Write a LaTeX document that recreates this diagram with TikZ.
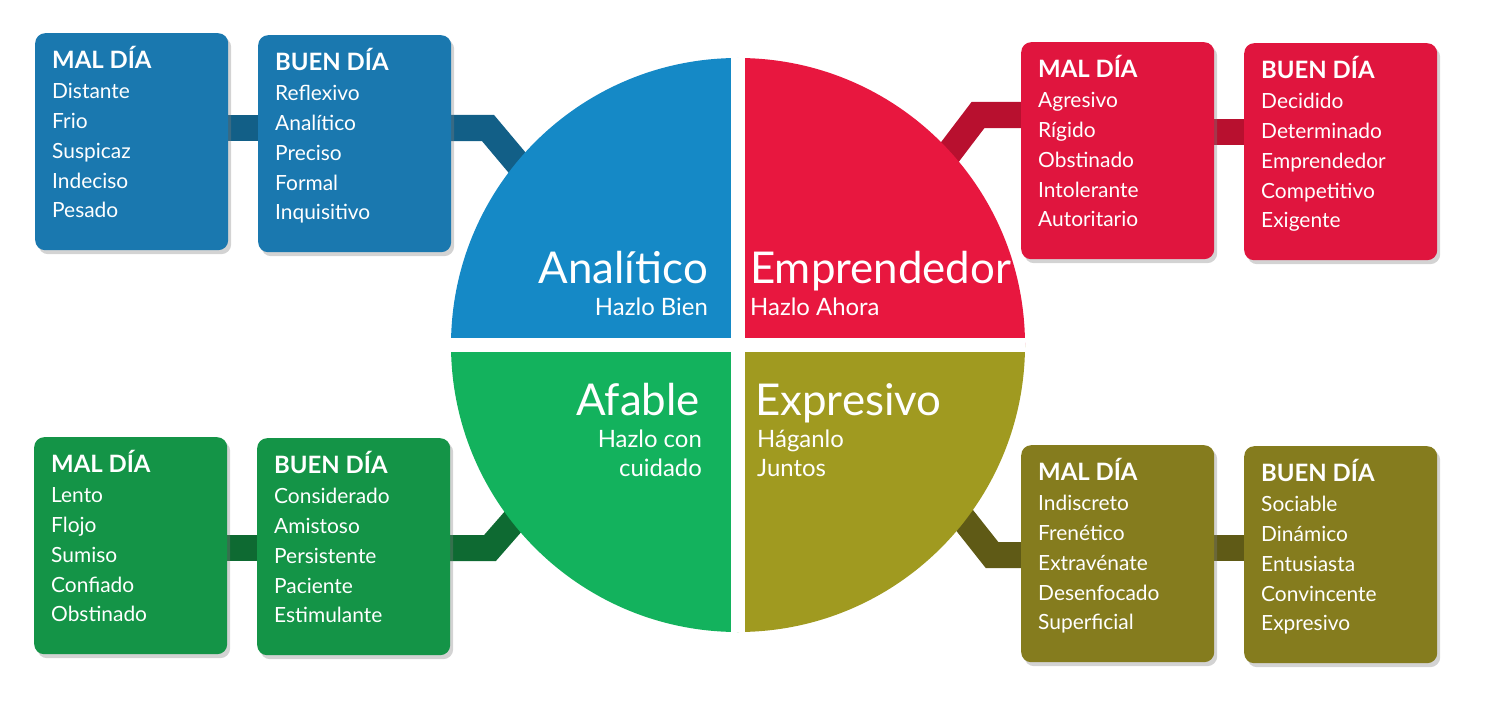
\documentclass[tikz,border=0pt]{standalone}
\usepackage{fontspec}
\setmainfont{Lato}
\usetikzlibrary{shadows}
\definecolor{bC}{HTML}{1589C6}\definecolor{bB}{HTML}{1A78AF}\definecolor{bK}{HTML}{125F87}
\definecolor{rC}{HTML}{E8173F}\definecolor{rB}{HTML}{E0153E}\definecolor{rK}{HTML}{B8102F}
\definecolor{gC}{HTML}{13B25D}\definecolor{gB}{HTML}{149447}\definecolor{gK}{HTML}{0E6A32}
\definecolor{oC}{HTML}{A09A20}\definecolor{oB}{HTML}{857C1E}\definecolor{oK}{HTML}{5F5A16}
\begin{document}
\begin{tikzpicture}[x=1bp,y=-1bp,
  box/.style={rounded corners=10bp,minimum width=193bp,minimum height=217bp,anchor=north west,
    drop shadow={shadow xshift=3bp,shadow yshift=-4bp,opacity=0.35,fill=gray}},
  boxtxt/.style={anchor=north west,text=white,align=left,font=\fontsize{21}{30}\selectfont,inner sep=0},
  conn/.style={line width=26bp,line join=miter},
  big/.style={text=white,font=\fontsize{44}{48}\selectfont,inner sep=0},
  small/.style={text=white,font=\fontsize{24}{29}\selectfont,inner sep=0}]
\useasboundingbox (0,0) rectangle (1490,706);
% connectors
\coordinate (bj) at (530,178); \coordinate (rj) at (940,165);
\coordinate (gj) at (525,508); \coordinate (oj) at (958,512);
\draw[conn,bK] (200,128) -- (280,128); \draw[conn,bK] (440,128) -- (488,128) -- (bj);
\draw[conn,rK] (1190,132) -- (1260,132); \draw[conn,rK] (rj) -- (978,115) -- (1030,115);
\draw[conn,gK] (200,548) -- (280,548); \draw[conn,gK] (440,548) -- (490,548) -- (gj);
\draw[conn,oK] (1190,548) -- (1260,548); \draw[conn,oK] (oj) -- (992,555) -- (1030,555);
% circle
\begin{scope}
\clip (738,345) circle (287);
\fill[bC] (400,0) rectangle (738,345);
\fill[rC] (738,0) rectangle (1100,345);
\fill[gC] (400,345) rectangle (738,700);
\fill[oC] (738,345) rectangle (1100,700);
\fill[white] (731,0) rectangle (745,700);
\fill[white] (400,338) rectangle (1100,352);
\end{scope}
\node (c) at (738,345) {};
\node[big,anchor=base east] (an) at (708,283) {Analítico};
\node[small,anchor=base east] (an2) at (708,315) {Hazlo Bien};
\node[big,anchor=base west] (em) at (750,283) {Emprendedor};
\node[small,anchor=base west] (em2) at (750,315) {Hazlo Ahora};
\node[big,anchor=base east] (af) at (700,415) {Afable};
\node[small,anchor=base east,align=right] (af2) at (702,447) {Hazlo con};
\node[small,anchor=base east] (af3) at (702,476) {cuidado};
\node[big,anchor=base west] (ex) at (755,415) {Expresivo};
\node[small,anchor=base west] (ex2) at (757,447) {Háganlo};
\node[small,anchor=base west] (ex3) at (757,476) {Juntos};
% boxes
\newcommand\mybox[6]{%
 \node[box,fill=#1] (#2) at (#3,#4) {};
 \node[boxtxt] (#2t) at ([shift={(17,13)}]#2.north west) {{\fontsize{24}{30}\selectfont\bfseries #5}\\#6};}
\mybox{bB}{bm}{35}{33}{MAL DÍA}{Distante\\Frio\\Suspicaz\\Indeciso\\Pesado}
\mybox{bB}{bb}{258}{35}{BUEN DÍA}{Reflexivo\\Analítico\\Preciso\\Formal\\Inquisitivo}
\mybox{rB}{rm}{1021}{42}{MAL DÍA}{Agresivo\\Rígido\\Obstinado\\Intolerante\\Autoritario}
\mybox{rB}{rb}{1244}{43}{BUEN DÍA}{Decidido\\Determinado\\Emprendedor\\Competitivo\\Exigente}
\mybox{gB}{gm}{34}{437}{MAL DÍA}{Lento\\Flojo\\Sumiso\\Confiado\\Obstinado}
\mybox{gB}{gb}{257}{438}{BUEN DÍA}{Considerado\\Amistoso\\Persistente\\Paciente\\Estimulante}
\mybox{oB}{om}{1021}{445}{MAL DÍA}{Indiscreto\\Frenético\\Extravénate\\Desenfocado\\Superficial}
\mybox{oB}{ob}{1244}{446}{BUEN DÍA}{Sociable\\Dinámico\\Entusiasta\\Convincente\\Expresivo}
\end{tikzpicture}
\end{document}
